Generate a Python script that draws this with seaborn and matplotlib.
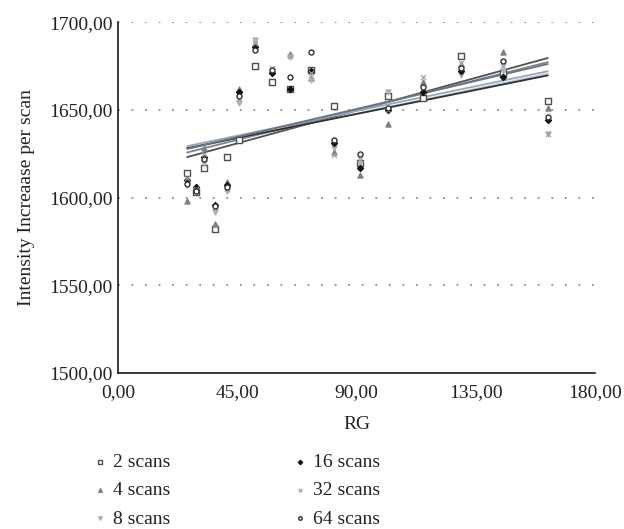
import numpy as np
import pandas as pd
import matplotlib
matplotlib.use("Agg")
import matplotlib.pyplot as plt
import seaborn as sns

sns.set_theme(style="white")
plt.rcParams['font.family'] = ['Liberation Serif', 'DejaVu Serif']

# RG values (x) shared by all series
rg = [26.1, 29.5, 32.6, 36.7, 41.3, 45.8, 51.5, 58.0, 64.8, 72.7,
      81.4, 91.3, 101.9, 115.2, 129.2, 145.1, 162.1]

# Intensity increase per scan, one list per number of scans
scans_2 = [1614, 1603, 1617, 1582, 1623, 1633, 1675, 1666, 1662, 1673,
           1652, 1620, 1658, 1657, 1681, 1671, 1655]
scans_4 = [1598, 1606, 1628, 1585, 1609, 1662, 1688, 1673, 1682, 1668,
           1626, 1613, 1642, 1666, 1676, 1683, 1651]
scans_8 = [1607, 1604, 1620, 1592, 1604, 1654, 1690, 1672, 1680, 1667,
           1628, 1619, 1660, 1662, 1670, 1672, 1636]
scans_16 = [1610, 1606, 1623, 1596, 1607, 1660, 1686, 1671, 1662, 1672,
            1631, 1617, 1650, 1660, 1672, 1669, 1644]
scans_32 = [1611, 1605, 1625, 1594, 1605, 1656, 1688, 1674, 1681, 1671,
            1624, 1622, 1650, 1669, 1677, 1675, 1636]
scans_64 = [1608, 1604, 1622, 1595, 1606, 1658, 1684, 1673, 1669, 1683,
            1633, 1625, 1651, 1663, 1674, 1678, 1646]

series_labels = ['2 scans', '4 scans', '8 scans', '16 scans', '32 scans', '64 scans']
series_values = [scans_2, scans_4, scans_8, scans_16, scans_32, scans_64]

x_ticks = [0, 45, 90, 135, 180]
y_ticks = [1500, 1550, 1600, 1650, 1700]

# marker style per series: (marker, face, edge, line colour)
styles = {
    '2 scans': ('s', 'white', '#505050', '#505050'),
    '4 scans': ('^', '#808080', '#808080', '#7a8590'),
    '8 scans': ('v', '#b0b0b0', '#b0b0b0', '#b8c4d0'),
    '16 scans': ('D', '#111111', '#111111', '#303030'),
    '32 scans': ('x', '#9aa4b0', '#9aa4b0', '#98a8b8'),
    '64 scans': ('o', 'white', '#303030', '#6a7480'),
}

df = pd.DataFrame({'RG': np.tile(rg, len(series_labels)),
                   'value': np.concatenate(series_values),
                   'series': np.repeat(series_labels, len(rg))})

fig = plt.figure(figsize=(6.24, 5.29), dpi=100)
ax = fig.add_axes([0.189, 0.295, 0.765, 0.663])

handles = []
for label in series_labels:
    sub = df[df['series'] == label]
    marker, face, edge, lcol = styles[label]
    sns.regplot(data=sub, x='RG', y='value', scatter=False, ci=None, ax=ax,
                line_kws={'color': lcol, 'linewidth': 1.3})
    size = 13 if marker != 'D' else 9
    if marker == 'x':
        sc = ax.scatter(sub['RG'], sub['value'], marker='x', s=size, color=edge,
                        linewidths=0.9, label=label, zorder=3)
    else:
        sc = ax.scatter(sub['RG'], sub['value'], marker=marker, s=size,
                        facecolor=face, edgecolor=edge, linewidths=1.0,
                        label=label, zorder=3)
    handles.append(sc)

ax.set_xlim(0, 180)
ax.set_ylim(1500, 1700)
ax.set_xticks(x_ticks)
ax.set_yticks(y_ticks)
ax.set_xticklabels([f"{v:.2f}".replace('.', ',') for v in x_ticks], fontsize=14, color='#222222')
ax.set_yticklabels([f"{v:.2f}".replace('.', ',') for v in y_ticks], fontsize=14, color='#222222')
ax.tick_params(axis='y', length=0, pad=4)
ax.tick_params(axis='x', length=0, pad=8)

for yv in y_ticks[1:]:
    ax.axhline(yv, color='#8c8c8c', linewidth=1.3, linestyle=(0, (1, 6.5)), zorder=0)

for s in ['top', 'right']:
    ax.spines[s].set_visible(False)
for s in ['left', 'bottom']:
    ax.spines[s].set_color('#1a1a1a')
    ax.spines[s].set_linewidth(1.2)

ax.set_xlabel('RG', fontsize=14, color='#222222', labelpad=11)
ax.set_ylabel('Intensity Increaase per scan', fontsize=14, color='#222222', labelpad=10)

fig.legend(handles=handles, labels=series_labels, ncol=2, frameon=False,
           loc='upper left', bbox_to_anchor=(0.147, 0.143), fontsize=14,
           borderaxespad=0, borderpad=0,
           columnspacing=6.25, handletextpad=0.3, labelspacing=0.55,
           handlelength=0.8, markerscale=0.7, labelcolor='#222222')

fig.savefig('out.png', dpi=100)
